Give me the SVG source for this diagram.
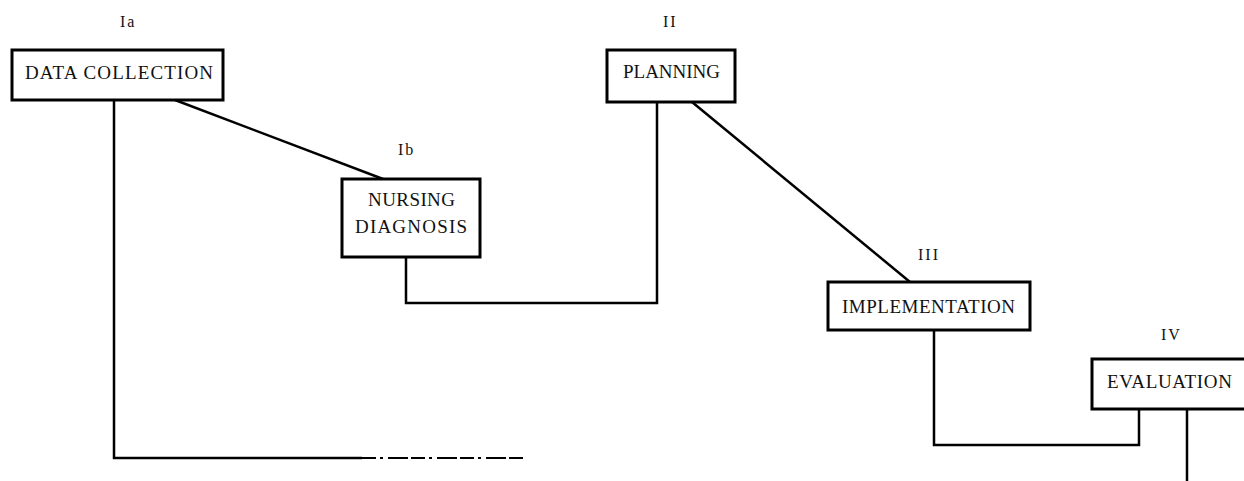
<svg xmlns="http://www.w3.org/2000/svg" width="1244" height="481" viewBox="0 0 1244 481">
<style>
.box{fill:#fff;stroke:#000;stroke-width:3}
.t{font-family:"Liberation Serif","Times New Roman",serif;font-size:19px;fill:#111}
.lb{font-family:"Liberation Serif","Times New Roman",serif;font-size:16px;fill:#111;letter-spacing:2px}
.c{fill:none;stroke:#000;stroke-width:2.5}
.d{fill:none;stroke:#000;stroke-width:2;stroke-dasharray:14 4 3 5 20 3}
</style>
<rect width="1244" height="481" fill="#fff"/>
<g id="connectors">
<polyline class="c" points="114,100 114,458 362,458"/>
<line class="d" x1="362" y1="458" x2="527" y2="458"/>
<line class="c" x1="175" y1="100" x2="383" y2="179"/>
<polyline class="c" points="406,257 406,303 657,303 657,102"/>
<line class="c" x1="692" y1="102" x2="910" y2="282"/>
<polyline class="c" points="934,330 934,445 1139,445 1139,409"/>
<line class="c" x1="1187" y1="409" x2="1187" y2="481"/>
</g>
<g id="data-collection">
<rect class="box" x="12" y="50" width="211" height="50"/>
<text class="t" x="25" y="79" textLength="188" lengthAdjust="spacing">DATA COLLECTION</text>
<text class="lb" x="120" y="27">Ia</text>
</g>
<g id="nursing-diagnosis">
<rect class="box" x="342" y="179" width="138" height="78"/>
<text class="t" x="368" y="206" textLength="87" lengthAdjust="spacing">NURSING</text>
<text class="t" x="355" y="233" textLength="112" lengthAdjust="spacing">DIAGNOSIS</text>
<text class="lb" x="398" y="155">Ib</text>
</g>
<g id="planning">
<rect class="box" x="607" y="50" width="128" height="52"/>
<text class="t" x="623" y="78" textLength="97" lengthAdjust="spacing">PLANNING</text>
<text class="lb" x="663" y="27">II</text>
</g>
<g id="implementation">
<rect class="box" x="828" y="282" width="202" height="48"/>
<text class="t" x="842" y="313" textLength="173" lengthAdjust="spacing">IMPLEMENTATION</text>
<text class="lb" x="918" y="260">III</text>
</g>
<g id="evaluation">
<rect class="box" x="1092" y="359" width="160" height="50"/>
<text class="t" x="1107" y="388" textLength="125" lengthAdjust="spacing">EVALUATION</text>
<text class="lb" x="1161" y="340">IV</text>
</g>
</svg>
